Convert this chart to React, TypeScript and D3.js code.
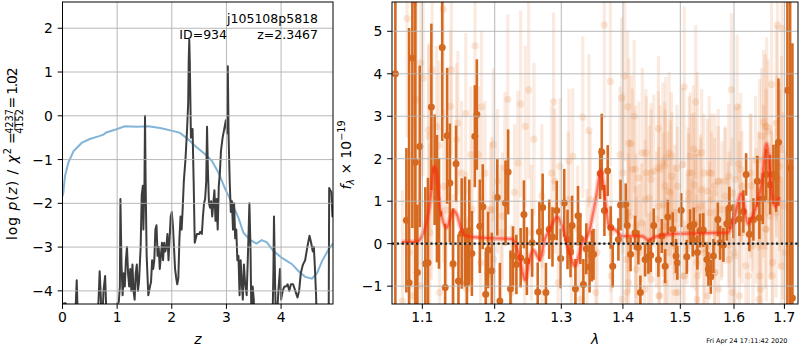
import * as React from "react";
import * as d3 from "d3";

// ---- left panel: log p(z) and chi2 curve ----
const chi2Curve: [number, number][] = [
  [0.0, -1.84], [0.015, -1.76], [0.045, -1.38], [0.107, -1.07], [0.2, -0.81], [0.35, -0.62],
  [0.5, -0.53], [0.656, -0.47], [0.75, -0.43], [0.8, -0.38], [0.961, -0.32], [1.14, -0.24],
  [1.358, -0.25], [1.57, -0.24], [1.786, -0.28], [2.03, -0.35], [2.15, -0.39], [2.305, -0.54],
  [2.427, -0.69], [2.61, -0.88], [2.733, -1.03], [2.855, -1.3], [2.98, -1.68], [3.1, -1.99],
  [3.22, -2.33], [3.31, -2.67], [3.43, -2.83], [3.55, -2.92], [3.645, -2.84], [3.74, -2.89],
  [3.86, -3.09], [4.01, -3.24], [4.2, -3.39], [4.32, -3.55], [4.44, -3.68], [4.565, -3.72],
  [4.66, -3.59], [4.75, -3.32], [4.87, -3.05], [4.96, -2.9]
];

const pzCurve: [number, number][] = [
  [0.0, -4.3], [0.05, -4.28], [0.1, -4.35], [0.2, -5], [0.24, -4.4], [0.26, -3.76], [0.28, -4.6],
  [0.3, -5], [0.62, -5], [0.66, -4.2], [0.68, -3.55], [0.7, -4.1], [0.72, -5], [0.75, -4.0],
  [0.78, -3.66], [0.8, -4.4], [0.83, -5], [0.98, -5], [1.0, -4.3], [1.03, -4.25], [1.05, -3.9],
  [1.06, -1.9], [1.08, -3.4], [1.1, -4.1], [1.12, -3.6], [1.14, -3.9], [1.16, -3.3], [1.18, -3.0],
  [1.2, -3.6], [1.22, -3.9], [1.24, -3.5], [1.26, -4.0], [1.28, -3.4], [1.3, -4.0], [1.32, -4.2],
  [1.34, -3.6], [1.36, -3.4], [1.38, -4.0], [1.4, -3.8], [1.43, -3.0], [1.45, -1.8], [1.47, -1.6],
  [1.48, -2.6], [1.5, -1.5], [1.51, 0.0], [1.52, -1.4], [1.54, -3.2], [1.57, -4.1], [1.6, -3.9],
  [1.62, -3.8], [1.64, -3.3], [1.66, -3.5], [1.68, -3.3], [1.7, -2.6], [1.72, -2.5], [1.74, -3.2],
  [1.76, -3.0], [1.78, -3.5], [1.8, -3.2], [1.82, -2.9], [1.84, -3.3], [1.86, -2.9], [1.88, -3.1],
  [1.9, -3.0], [1.92, -2.7], [1.94, -3.3], [1.96, -2.8], [1.98, -2.3], [2.0, -2.2], [2.02, -2.5],
  [2.04, -3.0], [2.06, -3.5], [2.08, -3.7], [2.1, -3.85], [2.12, -3.7], [2.14, -2.8], [2.16, -2.3],
  [2.18, -2.6], [2.2, -2.1], [2.22, -1.5], [2.25, -1.0], [2.28, -0.3], [2.3, 0.3], [2.31, 1.3],
  [2.32, 1.74], [2.33, 1.2], [2.35, -0.5], [2.38, -0.3], [2.4, -1.5], [2.42, -2.9], [2.44, -2.8],
  [2.46, -2.7], [2.5, -2.7], [2.52, -2.65], [2.55, -2.7], [2.57, -2.3], [2.59, -2.0], [2.61, -1.9],
  [2.63, -1.5], [2.645, -0.25], [2.66, -1.2], [2.68, -2.0], [2.7, -2.1], [2.72, -1.95], [2.74, -2.3],
  [2.76, -2.0], [2.78, -1.7], [2.8, -2.4], [2.82, -1.9], [2.84, -2.6], [2.86, -1.6], [2.88, -1.3],
  [2.9, -0.8], [2.93, -0.5], [2.96, -0.3], [2.99, -0.1], [3.01, -0.4], [3.025, 1.13], [3.04, -0.5],
  [3.06, -1.5], [3.08, -2.2], [3.1, -1.95], [3.12, -2.6], [3.14, -2.0], [3.16, -2.8], [3.18, -2.6],
  [3.2, -3.3], [3.22, -3.2], [3.24, -4.1], [3.26, -3.3], [3.28, -3.8], [3.3, -4.2], [3.32, -3.4],
  [3.34, -3.8], [3.37, -4.1], [3.4, -2.9], [3.42, -2.0], [3.44, -3.0], [3.46, -5], [3.48, -3.9],
  [3.5, -4.2], [3.52, -5], [3.84, -5], [3.86, -3.5], [3.87, -2.3], [3.89, -3.8], [3.91, -5],
  [3.95, -4.0], [3.98, -3.5], [4.0, -4.2], [4.03, -4.0], [4.06, -3.9], [4.09, -3.9], [4.12, -3.85],
  [4.15, -4.0], [4.18, -3.85], [4.22, -3.85], [4.26, -4.0], [4.3, -4.15], [4.33, -4.0], [4.36, -3.6],
  [4.4, -3.4], [4.44, -3.3], [4.48, -3.0], [4.52, -2.74], [4.55, -2.9], [4.58, -3.1], [4.6, -3.0],
  [4.62, -3.5], [4.64, -4.1], [4.66, -5], [4.87, -5], [4.88, -1.65], [4.9, -1.7], [4.92, -1.75],
  [4.94, -2.3], [4.96, -2.3]
];

const zTicks = [0, 1, 2, 3, 4];
const logpTicks = [-4, -3, -2, -1, 0, 1, 2];

// ---- right panel: spectrum ----
const modelLine: [number, number][] = [
  [1.073, 0.04], [1.0926, 0.05], [1.1013, 0.25], [1.1102, 0.96], [1.116, 1.82], [1.119, 1.67],
  [1.1236, 0.85], [1.1326, 0.38], [1.1416, 0.78], [1.146, 0.71], [1.153, 0.32], [1.16, 0.18],
  [1.1738, 0.15], [1.1925, 0.13], [1.2255, 0.11], [1.235, -0.22], [1.2448, -0.86], [1.252, -0.31],
  [1.257, -0.15], [1.267, -0.38], [1.2743, 0.09], [1.2816, 0.32], [1.294, 0.63], [1.3015, 0.4],
  [1.3115, -0.15], [1.3216, -0.53], [1.332, -0.04], [1.345, 0.32], [1.3555, 1.1], [1.3635, 1.73],
  [1.3687, 1.26], [1.377, 0.4], [1.3877, 0.32], [1.3986, 0.18], [1.4322, 0.18], [1.4434, 0.09],
  [1.4549, 0.16], [1.4902, 0.23], [1.5505, 0.25], [1.5882, 0.26], [1.6009, 0.63], [1.6139, 1.18],
  [1.627, 0.47], [1.6405, 0.78], [1.654, 1.41], [1.6641, 2.35], [1.6744, 1.18], [1.6811, 0.87],
  [1.689, 1.1]
];

// [lambda, flux, error]
const grismPoints: [number, number, number][] = [
  [1.0649, 4.0, 6], [1.0791, 0.55, 1.7], [1.0826, -0.92, 6], [1.0869, 4.37, 4], [1.0908, 1.92, 4],
  [1.0934, -0.68, 1.6], [1.0966, 2.29, 1.9], [1.104, -0.47, 1.8], [1.1075, -0.45, 2.0],
  [1.112, 3.22, 1.96], [1.1164, 1.74, 1.3], [1.1195, 1.06, 1.5], [1.1222, 0.71, 1.3],
  [1.1266, 4.62, 2.2], [1.1306, -1.03, 1.5], [1.1333, 2.54, 1.6], [1.137, 1.43, 1.4],
  [1.1414, -0.47, 1.3], [1.1455, 1.88, 0.9], [1.1488, -0.88, 1.1], [1.1533, 0.24, 1.3],
  [1.1578, 0.28, 1.3], [1.1606, -0.92, 1.2], [1.1639, 0.31, 1.2], [1.1675, -0.23, 1.0],
  [1.1717, 2.53, 1.2], [1.1745, 3.04, 1.3], [1.1787, 0.41, 1.1], [1.1829, 0.87, 1.0],
  [1.1871, -1.19, 1.0], [1.1905, -0.15, 0.9], [1.1958, -0.64, 0.9], [1.2037, 1.09, 0.9],
  [1.2075, -1.35, 0.9], [1.2157, 0.96, 1.0], [1.2195, 1.69, 1.0], [1.223, -1.06, 0.9],
  [1.2267, -0.29, 0.7], [1.2317, -0.49, 0.7], [1.238, -0.33, 0.7], [1.2429, 0.69, 0.8],
  [1.2473, -0.41, 0.8], [1.2553, 0.02, 0.8], [1.2637, -1.14, 0.7], [1.2662, 0.28, 0.7],
  [1.2712, 0.85, 0.8], [1.2762, -1.15, 0.7], [1.2813, 0.34, 0.7], [1.2863, 0.16, 0.7],
  [1.2929, 0.78, 0.7], [1.2991, -0.35, 0.7], [1.3046, 0.96, 0.8], [1.3098, 0.1, 0.7],
  [1.3145, -0.19, 0.6], [1.317, 0.43, 0.7], [1.3223, -1.06, 0.7], [1.3264, 0.66, 0.7],
  [1.3302, 0.12, 0.6], [1.335, -0.96, 0.6], [1.3397, -0.12, 0.6], [1.345, -0.55, 0.6],
  [1.3487, -0.29, 0.6], [1.3514, -0.25, 0.6], [1.3622, 1.65, 0.6], [1.3648, 2.16, 0.9],
  [1.3692, 0.78, 0.6], [1.3746, 1.72, 0.6], [1.3796, 0.38, 0.5], [1.3829, -0.53, 0.5],
  [1.3924, 0.1, 0.5], [1.396, 0.91, 0.6], [1.4048, 0.92, 0.5], [1.4073, 0.43, 0.4],
  [1.4129, -0.25, 0.4], [1.4206, 0.26, 0.4], [1.4263, -0.09, 0.4], [1.4297, -1.15, 0.4],
  [1.4378, -0.37, 0.4], [1.4435, -0.31, 0.4], [1.4476, -0.27, 0.4], [1.4528, 0.43, 0.4],
  [1.461, -0.38, 0.4], [1.467, 0.18, 0.4], [1.4728, -0.53, 0.4], [1.4777, 0.63, 0.4],
  [1.4864, 0.34, 0.4], [1.4923, -0.29, 0.4], [1.4947, -0.45, 0.4], [1.5016, 0.79, 0.4],
  [1.5117, -0.31, 0.4], [1.5177, 0.41, 0.4], [1.5225, 0.1, 0.4], [1.5245, 0.45, 0.4],
  [1.5311, -0.21, 0.4], [1.536, 0.31, 0.4], [1.542, 0.32, 0.4], [1.5486, -0.37, 0.4],
  [1.5516, -0.6, 0.4], [1.556, -0.78, 0.4], [1.5609, -0.29, 0.4], [1.5692, 0.57, 0.4],
  [1.5735, 0.02, 0.4], [1.5798, -0.03, 0.4], [1.5862, 0.47, 0.4], [1.5912, 0.84, 0.5],
  [1.5989, 0.53, 0.4], [1.6104, 0.58, 0.4], [1.6182, 0.76, 0.5], [1.6235, 1.63, 0.5],
  [1.6299, 0.22, 0.4], [1.6378, 0.57, 0.5], [1.6456, 1.47, 0.6], [1.6496, 0.61, 0.5],
  [1.6564, 1.06, 0.6], [1.663, 1.63, 0.6], [1.6709, 1.39, 0.7], [1.6777, 1.63, 0.7],
  [1.6831, 1.55, 0.8], [1.6878, 2.39, 1.5], [1.7061, 3.61, 6], [1.7117, 1.78, 6], [1.7164, -1.28, 6]
];

const otherPoints: [number, number, number][] = [
  [1.074, -1.35, 2.6], [1.08, 5.3, 2.8], [1.083, -0.21, 2.4], [1.088, -1.23, 2.5], [1.089, 5.66, 3.0],
  [1.092, 3.39, 2.6], [1.097, -0.99, 2.2], [1.098, 4.26, 2.7], [1.101, 3.9, 2.3], [1.108, 2.68, 2.0],
  [1.109, 2.53, 2.2], [1.11, 0.26, 2.1], [1.112, 1.16, 2.0], [1.113, 4.09, 2.4], [1.119, 2.76, 1.9],
  [1.122, 2.31, 2.0], [1.123, -1.15, 1.8], [1.128, 5.52, 2.6], [1.1285, 1.35, 1.8], [1.132, 0.79, 1.9],
  [1.138, 3.23, 1.8], [1.139, 4.09, 2.0], [1.141, -0.53, 1.7], [1.146, 2.45, 1.8], [1.148, 2.84, 1.7],
  [1.153, 1.66, 1.7], [1.159, 3.06, 1.9], [1.1595, 0.1, 1.6], [1.16, -1.07, 1.7], [1.166, 2.1, 1.6],
  [1.168, 0.8, 1.7], [1.172, 4.66, 2.0], [1.177, 2.1, 1.6], [1.18, -0.45, 1.6], [1.181, 3.22, 1.8],
  [1.186, 1.66, 1.7], [1.19, -0.7, 1.6], [1.194, 0.79, 1.6],
  [1.196, 0.81, 1.7], [1.198, 2.33, 1.8], [1.1985, -0.37, 1.6], [1.204, 1.47, 1.7], [1.209, 0.26, 1.6],
  [1.211, 0.65, 1.5], [1.215, 1.78, 1.8], [1.219, 3.4, 2.0], [1.224, -1.15, 1.6], [1.229, 1.21, 1.6],
  [1.234, 1.9, 1.7], [1.238, 3.29, 2.2], [1.244, -0.76, 1.5], [1.245, 2.76, 1.9], [1.25, 3.62, 2.1],
  [1.254, 0.26, 1.6], [1.258, 2.46, 1.8], [1.27, 1.12, 1.7], [1.2705, -0.21, 1.5], [1.285, 1.66, 1.6],
  [1.288, 3.34, 2.1], [1.29, 1.47, 1.7], [1.295, -0.92, 1.5], [1.298, 1.82, 1.6], [1.311, 1.04, 1.6],
  [1.312, 1.94, 1.7], [1.316, -0.45, 1.5], [1.318, 2.06, 1.6], [1.326, 0.34, 1.5], [1.331, -1.31, 1.5],
  [1.334, 2.98, 1.9], [1.341, -0.21, 1.5], [1.344, 2.66, 1.8], [1.346, 1.04, 1.6],
  [1.355, -1.15, 1.5], [1.357, -0.21, 1.4], [1.369, 5.15, 2.2], [1.379, 3.82, 2.0], [1.38, 0.26, 1.4],
  [1.3805, -0.76, 1.4], [1.395, 2.1, 1.6], [1.398, 3.43, 1.9], [1.3985, -1.31, 1.4], [1.403, 3.95, 2.0],
  [1.408, 3.22, 1.8], [1.409, 0.73, 1.4], [1.4095, -0.92, 1.4], [1.414, 2.36, 1.6], [1.419, 3.0, 1.8],
  [1.421, 1.75, 1.5], [1.4215, -0.05, 1.4], [1.432, 0.49, 1.4], [1.438, 1.04, 1.4], [1.439, 2.14, 1.5],
  [1.444, -0.68, 1.4], [1.448, 1.66, 1.5], [1.461, 2.71, 1.7], [1.4615, 0.88, 1.4], [1.462, -1.23, 1.4],
  [1.464, 1.75, 1.5], [1.472, 1.84, 1.5], [1.4725, -0.92, 1.4], [1.478, 1.24, 1.4], [1.4785, -0.21, 1.3],
  [1.484, 2.06, 1.5], [1.4845, 1.59, 1.5], [1.489, 0.57, 1.3], [1.494, 1.77, 1.5], [1.495, 1.35, 1.4],
  [1.4955, -1.15, 1.3], [1.507, 3.69, 1.9], [1.5075, -0.76, 1.3], [1.512, 0.34, 1.3], [1.515, 1.19, 1.4],
  [1.518, 2.06, 1.5],
  [1.521, 1.66, 1.4], [1.5215, 0.26, 1.3], [1.524, 2.23, 1.5], [1.528, 3.34, 1.8], [1.531, 0.81, 1.3],
  [1.5315, -0.76, 1.3], [1.537, 1.27, 1.3], [1.539, 2.14, 1.5], [1.543, 1.66, 1.4], [1.544, -0.21, 1.2],
  [1.55, -1.23, 1.3], [1.554, 0.73, 1.2], [1.557, 1.66, 1.4], [1.563, 1.19, 1.3], [1.5635, -0.68, 1.2],
  [1.57, 1.47, 1.3], [1.576, 0.34, 1.2], [1.583, 1.47, 1.3], [1.589, 0.73, 1.2], [1.595, 3.63, 1.8],
  [1.596, 1.19, 1.3], [1.5965, -1.15, 1.3], [1.602, -0.29, 1.2], [1.606, 3.22, 1.7], [1.609, 1.88, 1.4],
  [1.615, 1.35, 1.3], [1.6155, 0.26, 1.2], [1.628, -0.76, 1.3], [1.632, 1.66, 1.4], [1.635, 0.65, 1.3],
  [1.642, 1.98, 1.5], [1.648, 1.24, 1.4], [1.6485, -1.31, 1.4], [1.654, 2.53, 1.6], [1.6545, -0.05, 1.4],
  [1.658, 2.86, 1.7], [1.661, 2.76, 1.7], [1.6615, 0.34, 1.4], [1.667, 2.64, 1.7], [1.671, 0.65, 1.5],
  [1.674, 3.75, 2.0], [1.6745, 1.04, 1.6], [1.675, -0.76, 1.6], [1.684, 2.06, 1.9], [1.686, 5.15, 2.6],
  [1.69, 1.82, 2.0], [1.694, 2.22, 2.2], [1.6945, -0.53, 2.0], [1.695, 5.07, 2.8], [1.697, 0.89, 2.2],
  [1.4, 1.67, 1.9], [1.406, -0.37, 1.7], [1.4065, -1.15, 1.6], [1.41, 2.36, 2.0], [1.411, 0.65, 1.8],
  [1.416, 1.75, 1.9], [1.422, 0.42, 1.7], [1.4225, -0.6, 1.7], [1.427, 1.55, 1.8], [1.4275, -0.21, 1.6],
  [1.433, 2.14, 2.0], [1.437, -1.07, 1.6], [1.44, 1.67, 1.8], [1.445, 1.08, 1.7], [1.448, 1.51, 1.8],
  [1.4485, -0.84, 1.6], [1.453, 1.71, 1.8], [1.458, 0.57, 1.6], [1.461, 1.79, 1.8], [1.463, -1.23, 1.6],
  [1.469, 1.9, 1.9], [1.4695, 0.92, 1.7], [1.473, 1.36, 1.8], [1.474, 2.02, 1.9], [1.4745, -0.52, 1.6],
  [1.48, 2.14, 1.9], [1.482, 1.2, 1.7], [1.485, -0.05, 1.6], [1.49, 0.73, 1.6], [1.4905, -1.15, 1.6],
  [1.504, 1.86, 1.8], [1.5045, -0.76, 1.6], [1.514, 1.04, 1.7], [1.516, 1.67, 1.8], [1.525, 1.39, 1.7],
  [1.527, 0.49, 1.6], [1.53, -0.44, 1.6], [1.5305, -1.31, 1.6], [1.531, 2.14, 1.9], [1.537, 0.89, 1.6],
  [1.543, -0.13, 1.5], [1.55, 1.24, 1.7], [1.553, 1.67, 1.8], [1.557, 1.04, 1.6], [1.563, 1.36, 1.7],
  [1.5635, -0.68, 1.5], [1.57, 1.47, 1.7], [1.5705, -1.07, 1.5], [1.577, 0.81, 1.6], [1.583, 1.12, 1.6],
  [1.59, 1.59, 1.7], [1.5905, 0.57, 1.6], [1.591, -0.37, 1.5], [1.6, -0.21, 1.5], [1.603, 1.51, 1.7],
  [1.61, 0.81, 1.6], [1.6105, -1.23, 1.5], [1.613, 1.75, 1.8], [1.623, -0.52, 1.6], [1.633, 1.36, 1.7],
  [1.637, -0.05, 1.6], [1.643, 0.65, 1.6], [1.65, 1.98, 1.9], [1.6505, -0.76, 1.6], [1.651, -1.07, 1.6],
  [1.658, 1.47, 1.8], [1.663, 1.75, 1.9], [1.6635, 0.34, 1.7], [1.664, 2.76, 2.1], [1.673, 1.0, 1.8],
  [1.676, -0.44, 1.8], [1.683, 0.73, 2.0], [1.6835, 2.84, 2.3], [1.69, 1.51, 2.1], [1.702, -0.21, 2.4]
];

const lamTicks = [1.1, 1.2, 1.3, 1.4, 1.5, 1.6, 1.7];
const fluxTicks = [-1, 0, 1, 2, 3, 4, 5];

const FONT = "DejaVu Sans, sans-serif";
const ORANGE = "#d5691f";
const fmtTick = (v: number) => (v < 0 ? "\u2212" + Math.abs(v) : String(v));

const App: React.FunctionComponent = () => {
  const top = 2;
  const bottom = 304;
  const tick = 4.86;

  const xz = d3.scaleLinear().domain([0, 4.95]).range([62.5, 333]);
  const yl = d3.scaleLinear().domain([-4.3, 2.6]).range([bottom, top]);
  const xl = d3.scaleLog().domain([1.0606, 1.728]).range([392, 798]);
  const yf = d3.scaleLinear().domain([-1.42, 5.69]).range([bottom, top]);

  const leftLine = d3
    .line<[number, number]>()
    .x(d => xz(d[0]))
    .y(d => yl(d[1]));
  const modelPath = d3
    .line<[number, number]>()
    .x(d => xl(d[0]))
    .y(d => yf(d[1]))
    .curve(d3.curveMonotoneX);

  const gridColor = "#b0b0b0";

  return (
    <svg
      width={800}
      height={350}
      style={{ position: "absolute", left: 0, top: 0, background: "#fff" }}
      fontFamily={FONT}
    >
      <defs>
        <clipPath id="clipL">
          <rect x={62.5} y={top} width={333 - 62.5} height={bottom - top} />
        </clipPath>
        <clipPath id="clipR">
          <rect x={392} y={top} width={798 - 392} height={bottom - top} />
        </clipPath>
      </defs>

      {/* left panel */}
      <g clipPath="url(#clipL)">
        <path d={leftLine(chi2Curve) || ""} fill="none" stroke="#82b4d8" strokeWidth={2} />
        <path d={leftLine(pzCurve) || ""} fill="none" stroke="#3d3d3d" strokeWidth={2} strokeLinejoin="round" />
        {zTicks.map(t => (
          <line key={"gz" + t} x1={xz(t)} x2={xz(t)} y1={top} y2={bottom} stroke={gridColor} strokeWidth={0.9} />
        ))}
        {logpTicks.map(t => (
          <line key={"gl" + t} x1={62.5} x2={333} y1={yl(t)} y2={yl(t)} stroke={gridColor} strokeWidth={0.9} />
        ))}
      </g>
      <rect x={62.5} y={top} width={333 - 62.5} height={bottom - top} fill="none" stroke="#000" strokeWidth={1} />
      {zTicks.map(t => (
        <g key={"tz" + t}>
          <line x1={xz(t)} x2={xz(t)} y1={bottom} y2={bottom + tick} stroke="#000" />
          <text x={xz(t)} y={322} fontSize={13.9} textAnchor="middle">{fmtTick(t)}</text>
        </g>
      ))}
      {logpTicks.map(t => (
        <g key={"tl" + t}>
          <line x1={62.5 - tick} x2={62.5} y1={yl(t)} y2={yl(t)} stroke="#000" />
          <text x={62.5 - 9.7} y={yl(t)} dy="0.36em" fontSize={13.9} textAnchor="end">{fmtTick(t)}</text>
        </g>
      ))}
      <text x={318} y={22.5} fontSize={12.5} textAnchor="end">j105108p5818</text>
      <text x={227} y={38.5} fontSize={12.5} textAnchor="end">ID=934</text>
      <text x={318} y={38.5} fontSize={12.5} textAnchor="end">z=2.3467</text>
      <text x={197.8} y={344} fontSize={13.9} textAnchor="middle" fontStyle="italic">z</text>
      <g transform="translate(16.5,154) rotate(-90)">
        <text x={-86} y={0} fontSize={13.9} textLength={92} lengthAdjust="spacing">
          log <tspan fontStyle="italic">p</tspan>(<tspan fontStyle="italic">z</tspan>) / <tspan fontStyle="italic">χ</tspan>
          <tspan dy={-5.5} fontSize={9.7}>2</tspan>
        </text>
        <text x={10} y={0} fontSize={13.9}>=</text>
        <text x={32.5} y={-3.5} fontSize={9.7} textAnchor="middle">4237</text>
        <line x1={24} x2={41} y1={-1.6} y2={-1.6} stroke="#000" strokeWidth={0.8} />
        <text x={32.5} y={6.5} fontSize={9.7} textAnchor="middle">4152</text>
        <text x={45.5} y={0} fontSize={13.9} textLength={41} lengthAdjust="spacing">= 1.02</text>
      </g>

      {/* right panel */}
      <g clipPath="url(#clipR)">
        {otherPoints.map((d, i) => (
          <line
            key={"ob" + i}
            x1={xl(d[0])}
            x2={xl(d[0])}
            y1={yf(d[1] - d[2])}
            y2={yf(d[1] + d[2])}
            stroke="#e8853f"
            strokeOpacity={0.17}
            strokeWidth={3.2}
          />
        ))}
        {otherPoints.map((d, i) => (
          <circle key={"od" + i} cx={xl(d[0])} cy={yf(d[1])} r={3.6} fill="#e8853f" fillOpacity={0.2} />
        ))}
        {grismPoints.map((d, i) => (
          <line
            key={"gb" + i}
            x1={xl(d[0])}
            x2={xl(d[0])}
            y1={yf(d[1] - d[2])}
            y2={yf(d[1] + d[2])}
            stroke={ORANGE}
            strokeWidth={2.6}
          />
        ))}
        {grismPoints.map((d, i) => (
          <circle key={"gd" + i} cx={xl(d[0])} cy={yf(d[1])} r={3.5} fill={ORANGE} />
        ))}
        <path d={modelPath(modelLine) || ""} fill="none" stroke="#ff2a10" strokeOpacity={0.25} strokeWidth={5} />
        <path d={modelPath(modelLine) || ""} fill="none" stroke="#ff2a10" strokeOpacity={0.55} strokeWidth={2.2} />
        {lamTicks.map(t => (
          <line key={"gx" + t} x1={xl(t)} x2={xl(t)} y1={top} y2={bottom} stroke={gridColor} strokeWidth={0.9} />
        ))}
        {fluxTicks.map(t => (
          <line key={"gy" + t} x1={392} x2={798} y1={yf(t)} y2={yf(t)} stroke={gridColor} strokeWidth={0.9} />
        ))}
        <line x1={392} x2={798} y1={yf(0)} y2={yf(0)} stroke="#1a1a1a" strokeWidth={2.2} strokeDasharray="2.2,2.6" />
      </g>
      <rect x={392} y={top} width={798 - 392} height={bottom - top} fill="none" stroke="#000" strokeWidth={1} />
      {lamTicks.map(t => (
        <g key={"tx" + t}>
          <line x1={xl(t)} x2={xl(t)} y1={bottom} y2={bottom + tick} stroke="#000" />
          <text x={xl(t)} y={322} fontSize={13.9} textAnchor="middle">{d3.format(".1f")(t)}</text>
        </g>
      ))}
      {fluxTicks.map(t => (
        <g key={"ty" + t}>
          <line x1={392 - tick} x2={392} y1={yf(t)} y2={yf(t)} stroke="#000" />
          <text x={392 - 9.7} y={yf(t)} dy="0.36em" fontSize={13.9} textAnchor="end">{fmtTick(t)}</text>
        </g>
      ))}
      <text x={595} y={344} fontSize={13.9} textAnchor="middle" fontStyle="italic">λ</text>
      <g transform="translate(351,155) rotate(-90)">
        <text x={0} y={0} fontSize={13.9} textAnchor="middle">
          <tspan fontStyle="italic">f</tspan>
          <tspan dy={3} fontSize={9.7} fontStyle="italic">λ</tspan>
          <tspan dy={-3}> × 10</tspan>
          <tspan dy={-6} fontSize={9.7}>−19</tspan>
        </text>
      </g>
      <text x={787.5} y={343} fontSize={6.5} textAnchor="end">Fri Apr 24 17:11:42 2020</text>
    </svg>
  );
};

export default App;
